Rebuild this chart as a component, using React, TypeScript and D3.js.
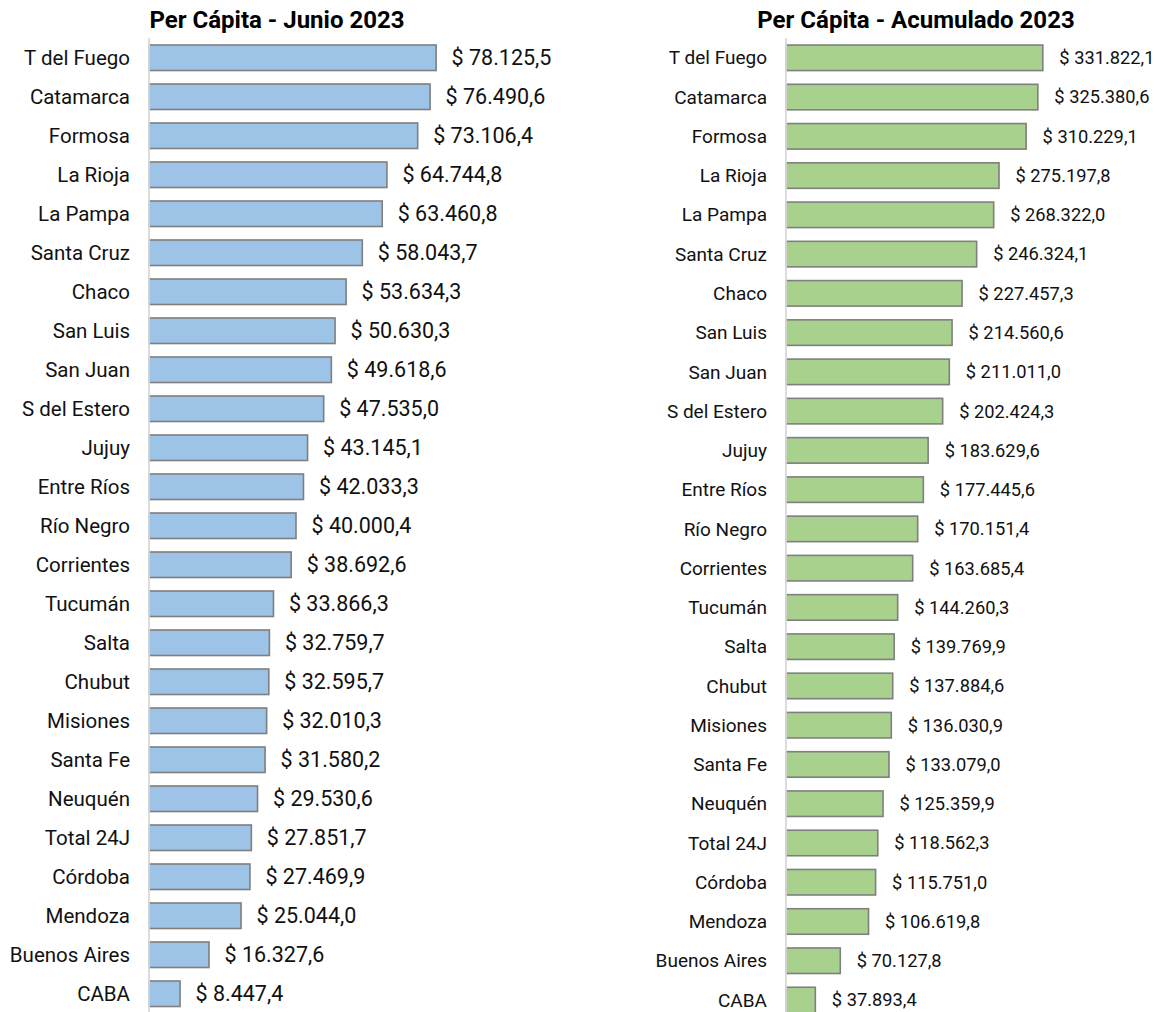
import React from "react";
import * as d3 from "d3";

const categories = [
  "T del Fuego", "Catamarca", "Formosa", "La Rioja", "La Pampa", "Santa Cruz",
  "Chaco", "San Luis", "San Juan", "S del Estero", "Jujuy", "Entre Ríos",
  "Río Negro", "Corrientes", "Tucumán", "Salta", "Chubut", "Misiones",
  "Santa Fe", "Neuquén", "Total 24J", "Córdoba", "Mendoza", "Buenos Aires", "CABA",
];

const junioValues = [
  78125.5, 76490.6, 73106.4, 64744.8, 63460.8, 58043.7, 53634.3, 50630.3,
  49618.6, 47535.0, 43145.1, 42033.3, 40000.4, 38692.6, 33866.3, 32759.7,
  32595.7, 32010.3, 31580.2, 29530.6, 27851.7, 27469.9, 25044.0, 16327.6, 8447.4,
];

const acumuladoValues = [
  331822.1, 325380.6, 310229.1, 275197.8, 268322.0, 246324.1, 227457.3, 214560.6,
  211011.0, 202424.3, 183629.6, 177445.6, 170151.4, 163685.4, 144260.3, 139769.9,
  137884.6, 136030.9, 133079.0, 125359.9, 118562.3, 115751.0, 106619.8, 70127.8, 37893.4,
];

const titles = ["Per Cápita - Junio 2023", "Per Cápita - Acumulado 2023"];

const locale = d3.formatLocale({
  decimal: ",",
  thousands: ".",
  grouping: [3],
  currency: ["$ ", ""],
});
const fmt = locale.format("$,.1f");

const FONT = "Roboto, 'Noto Sans', sans-serif";

type PanelProps = {
  values: number[];
  title: string;
  titleX: number;
  xDomainMax: number;
  xRange: [number, number];
  yRange: [number, number];
  padding: number;
  fill: string;
  labelX: number;
  catSize: number;
  valSize: number;
  valGap: number;
};

function Panel(p: PanelProps) {
  const y = d3.scaleBand<string>().domain(categories).range(p.yRange).padding(p.padding);
  const x = d3.scaleLinear().domain([0, p.xDomainMax]).range(p.xRange);
  const x0 = x(0);
  return (
    <g>
      <text x={p.titleX} y={27.5} textAnchor="middle" fontFamily={FONT} fontWeight={700} fontSize={24} fill="#000">
        {p.title}
      </text>
      {categories.map((c, i) => {
        const yy = y(c)!;
        const bw = y.bandwidth();
        const v = p.values[i];
        return (
          <g key={c}>
            <rect x={x0} y={yy} width={x(v) - x0} height={bw} fill={p.fill} stroke="#7f7f7f" strokeWidth={1.6} />
            <text x={p.labelX} y={yy + bw / 2} dy="0.35em" textAnchor="end" fontFamily={FONT} fontSize={p.catSize} fill="#111">
              {c}
            </text>
            <text x={x(v) + p.valGap} y={yy + bw / 2} dy="0.35em" textAnchor="start" fontFamily={FONT} fontSize={p.valSize} fill="#111">
              {fmt(v)}
            </text>
          </g>
        );
      })}
      <line x1={x0} x2={x0} y1={38} y2={1012} stroke="#d9d9d9" strokeWidth={1.8} />
    </g>
  );
}

export default function App() {
  return (
    <div style={{ position: "absolute", left: 0, top: 0 }}>
      <svg width={1168} height={1012} style={{ display: "block", background: "#fff" }}>
        <Panel
          values={junioValues}
          title={titles[0]}
          titleX={277}
          xDomainMax={80000}
          xRange={[149, 443]}
          yRange={[31.5, 1020]}
          padding={0.346}
          fill="#9dc3e6"
          labelX={130}
          catSize={20.5}
          valSize={21.5}
          valGap={15.5}
        />
        <Panel
          values={acumuladoValues}
          title={titles[1]}
          titleX={916}
          xDomainMax={350000}
          xRange={[786, 1056.9]}
          yRange={[31.3, 1026.5]}
          padding={0.35}
          fill="#a9d18e"
          labelX={767}
          catSize={19}
          valSize={18.3}
          valGap={16.5}
        />
      </svg>
    </div>
  );
}
